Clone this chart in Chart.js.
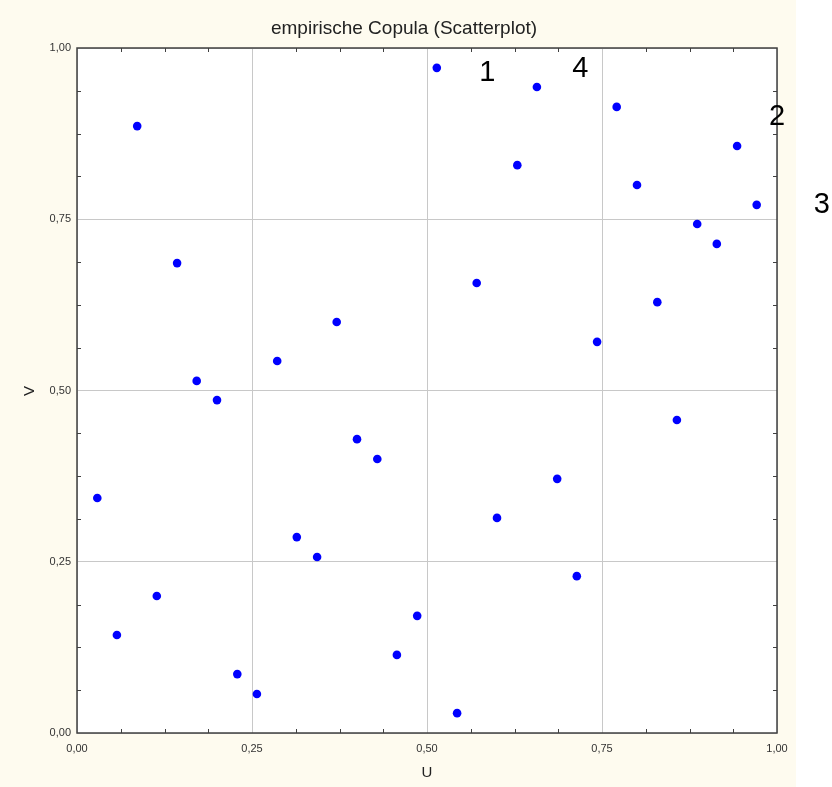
<!DOCTYPE html>
<html lang="de">
  <head>
    <meta charset="UTF-8" />
    <title>empirische Copula (Scatterplot)</title>
    <style>
      body { margin: 0; background: #fff; }
      #wrap { position: relative; width: 832px; height: 787px; }
    </style>
  </head>
  <body>
    <div id="wrap">
      <canvas id="scatter" width="832" height="787"></canvas>
    </div>

    <script src="https://cdn.jsdelivr.net/npm/chart.js"></script>
    <script>
      const uValues = [
        0.029, 0.057, 0.086, 0.114, 0.143, 0.171, 0.2, 0.229, 0.257, 0.286,
        0.314, 0.343, 0.371, 0.4, 0.429, 0.457, 0.486, 0.514, 0.543, 0.571,
        0.6, 0.629, 0.657, 0.686, 0.714, 0.743, 0.771, 0.8, 0.829, 0.857,
        0.886, 0.914, 0.943, 0.971,
      ];
      const vValues = [
        0.343, 0.143, 0.886, 0.2, 0.686, 0.514, 0.486, 0.086, 0.057, 0.543,
        0.286, 0.257, 0.6, 0.429, 0.4, 0.114, 0.171, 0.971, 0.029, 0.657,
        0.314, 0.829, 0.943, 0.371, 0.229, 0.571, 0.914, 0.8, 0.629, 0.457,
        0.743, 0.714, 0.857, 0.771,
      ];
      const minorTicks = [
        0.0625, 0.125, 0.1875, 0.3125, 0.375, 0.4375, 0.5625, 0.625, 0.6875,
        0.8125, 0.875, 0.9375,
      ];
      // hand-written corner numbers
      const noteTexts = ["1", "4", "2", "3"];
      const noteU = [0.586, 0.719, 1.0, 1.064];
      const noteV = [0.963, 0.969, 0.899, 0.771];

      const chartTitle = "empirische Copula (Scatterplot)";
      const xTitle = "U";
      const yTitle = "V";

      const points = uValues.map((u, i) => ({ x: u, y: vValues[i] }));
      const fmt = (v) => v.toFixed(2).replace(".", ",");

      const frame = {
        id: "frame",
        beforeDraw(chart) {
          const ctx = chart.ctx;
          const a = chart.chartArea;
          ctx.save();
          ctx.fillStyle = "#ffffff";
          ctx.fillRect(0, 0, chart.width, chart.height);
          ctx.fillStyle = "#fefbef";
          ctx.fillRect(0, 0, 796, chart.height);
          ctx.fillStyle = "#ffffff";
          ctx.fillRect(a.left, a.top, a.right - a.left, a.bottom - a.top);
          ctx.restore();
        },
        afterDraw(chart) {
          const ctx = chart.ctx;
          const a = chart.chartArea;
          const xs = chart.scales.x;
          const ys = chart.scales.y;
          ctx.save();
          ctx.strokeStyle = "#404040";
          ctx.lineWidth = 1.5;
          ctx.strokeRect(a.left, a.top, a.right - a.left, a.bottom - a.top);

          ctx.lineWidth = 1;
          ctx.beginPath();
          minorTicks.forEach((t) => {
            const px = Math.round(xs.getPixelForValue(t)) + 0.5;
            const py = Math.round(ys.getPixelForValue(t)) + 0.5;
            ctx.moveTo(px, a.bottom);
            ctx.lineTo(px, a.bottom - 4);
            ctx.moveTo(px, a.top);
            ctx.lineTo(px, a.top + 4);
            ctx.moveTo(a.left, py);
            ctx.lineTo(a.left + 4, py);
            ctx.moveTo(a.right, py);
            ctx.lineTo(a.right - 4, py);
          });
          ctx.stroke();

          ctx.fillStyle = "#222";
          ctx.textAlign = "center";
          ctx.textBaseline = "middle";
          ctx.font = "19px 'Liberation Sans', Arial, sans-serif";
          ctx.fillText(chartTitle, 404, 29);
          ctx.font = "15px 'Liberation Sans', Arial, sans-serif";
          ctx.fillText(xTitle, 427, 773);
          ctx.save();
          ctx.translate(30, 391);
          ctx.rotate(-Math.PI / 2);
          ctx.fillText(yTitle, 0, 0);
          ctx.restore();

          ctx.fillStyle = "#000";
          ctx.font = "29px 'Liberation Sans', Arial, sans-serif";
          noteTexts.forEach((txt, i) => {
            ctx.fillText(
              txt,
              xs.getPixelForValue(noteU[i]),
              ys.getPixelForValue(noteV[i])
            );
          });
          ctx.restore();
        },
      };

      const tickFont = { family: "'Liberation Sans', Arial, sans-serif", size: 11 };

      new Chart(document.getElementById("scatter"), {
        type: "scatter",
        data: {
          datasets: [
            {
              data: points,
              pointRadius: 4.3,
              pointHoverRadius: 4.3,
              backgroundColor: "#0000ff",
              borderWidth: 0,
            },
          ],
        },
        options: {
          responsive: false,
          animation: false,
          layout: { padding: { top: 48, right: 55, left: 0, bottom: 0 } },
          plugins: {
            legend: { display: false },
            tooltip: { enabled: false },
          },
          scales: {
            x: {
              type: "linear",
              min: 0,
              max: 1,
              afterFit: (s) => { s.height = 54; },
              border: { display: false },
              grid: { color: "#c8c8c8", drawTicks: false },
              ticks: {
                stepSize: 0.25,
                padding: 9,
                color: "#333",
                font: tickFont,
                maxRotation: 0,
                callback: fmt,
              },
            },
            y: {
              type: "linear",
              min: 0,
              max: 1,
              afterFit: (s) => { s.width = 77; },
              border: { display: false },
              grid: { color: "#c8c8c8", drawTicks: false },
              ticks: {
                stepSize: 0.25,
                padding: 6,
                color: "#333",
                font: tickFont,
                callback: fmt,
              },
            },
          },
        },
        plugins: [frame],
      });
    </script>
  </body>
</html>
